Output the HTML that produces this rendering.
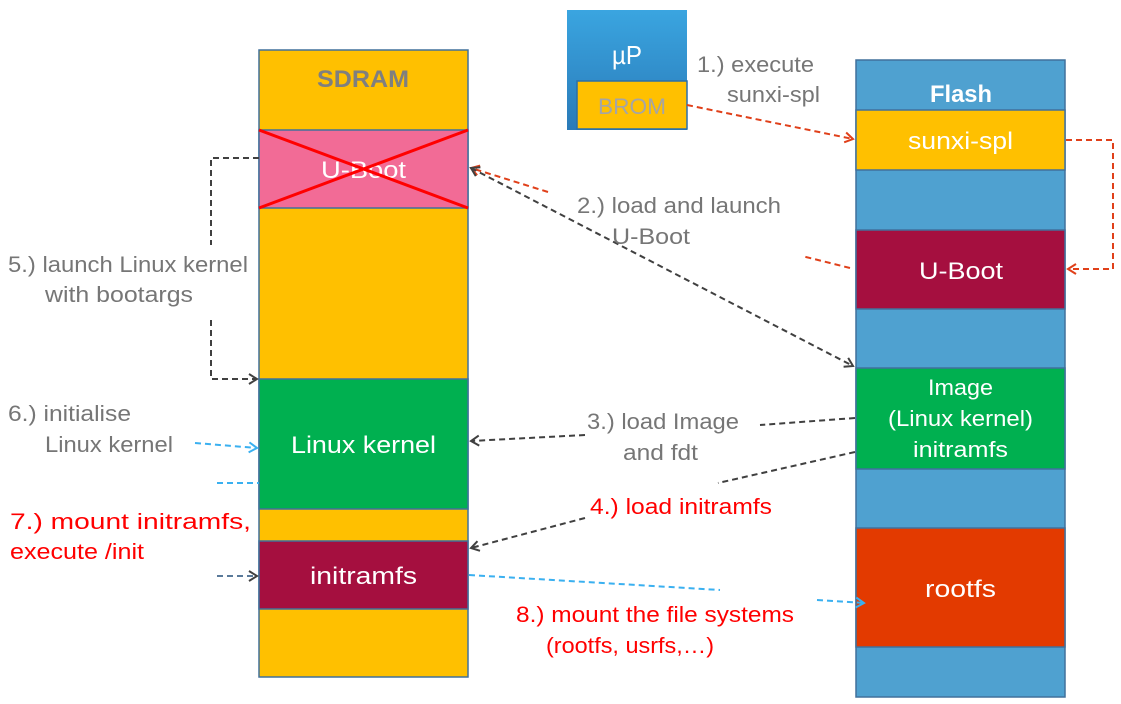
<!DOCTYPE html>
<html><head><style>body{margin:0;background:#fff}svg{display:block}</style></head><body>
<svg width="1121" height="704" xmlns="http://www.w3.org/2000/svg" font-family="Liberation Sans, sans-serif">
<defs>
<linearGradient id="g" x1="0" y1="0" x2="0" y2="1"><stop offset="0" stop-color="#3aa5e0"/><stop offset="1" stop-color="#2a7ab8"/></linearGradient>
<marker id="ao" markerWidth="12" markerHeight="12" refX="10" refY="6" orient="auto" markerUnits="userSpaceOnUse"><path d="M2,1 L10,6 L2,11" fill="none" stroke="#e0401a" stroke-width="2"/></marker>
<marker id="ag" markerWidth="12" markerHeight="12" refX="10" refY="6" orient="auto-start-reverse" markerUnits="userSpaceOnUse"><path d="M2,1 L10,6 L2,11" fill="none" stroke="#404040" stroke-width="2"/></marker>
<marker id="ab" markerWidth="12" markerHeight="12" refX="10" refY="6" orient="auto" markerUnits="userSpaceOnUse"><path d="M2,1 L10,6 L2,11" fill="none" stroke="#3ab0f0" stroke-width="2"/></marker>
</defs>
<g stroke="#41719c" stroke-width="1.5">
<rect x="259" y="50" width="209" height="627" fill="#ffc000"/>
<rect x="259" y="130" width="209" height="78" fill="#f26b96"/>
<rect x="259" y="379" width="209" height="130" fill="#00b050"/>
<rect x="259" y="541" width="209" height="68" fill="#a50f3f"/>
<rect x="856" y="60" width="209" height="637" fill="#4fa1d0"/>
<rect x="856" y="110" width="209" height="60" fill="#ffc000"/>
<rect x="856" y="230" width="209" height="79" fill="#a50f3f"/>
<rect x="856" y="368" width="209" height="101" fill="#00b050"/>
<rect x="856" y="528" width="209" height="119" fill="#e33a00"/>
</g>
<rect x="567" y="10" width="120" height="120" fill="url(#g)"/>
<rect x="577" y="81" width="110" height="48" fill="#ffc000" stroke="#2a6fa8" stroke-width="1.5"/>
<g fill="#fff" font-size="24" lengthAdjust="spacingAndGlyphs">
<text x="321" y="178" textLength="85" lengthAdjust="spacingAndGlyphs">U-Boot</text>
<text x="291" y="453" textLength="145" lengthAdjust="spacingAndGlyphs">Linux kernel</text>
<text x="310" y="584" textLength="107" lengthAdjust="spacingAndGlyphs">initramfs</text>
<text x="908" y="149" textLength="105" lengthAdjust="spacingAndGlyphs">sunxi-spl</text>
<text x="919" y="279" textLength="84" lengthAdjust="spacingAndGlyphs">U-Boot</text>
<text x="928" y="395" font-size="22" textLength="65" lengthAdjust="spacingAndGlyphs">Image</text>
<text x="888" y="426" font-size="22" textLength="145" lengthAdjust="spacingAndGlyphs">(Linux kernel)</text>
<text x="913" y="457" font-size="22" textLength="95" lengthAdjust="spacingAndGlyphs">initramfs</text>
<text x="925" y="597" textLength="71" lengthAdjust="spacingAndGlyphs">rootfs</text>
<text x="930" y="102" font-weight="bold" textLength="62" lengthAdjust="spacingAndGlyphs">Flash</text>
<text x="612" y="64" font-size="26" textLength="30" lengthAdjust="spacingAndGlyphs">µP</text>
</g>
<text x="317" y="87" fill="#7f7f7f" font-size="24" font-weight="bold" textLength="92" lengthAdjust="spacingAndGlyphs">SDRAM</text>
<text x="598" y="114" fill="#a5a5a5" font-size="22" textLength="68" lengthAdjust="spacingAndGlyphs">BROM</text>
<line x1="259" y1="130" x2="468" y2="208" stroke="#ff0000" stroke-width="3"/>
<line x1="468" y1="130" x2="259" y2="208" stroke="#ff0000" stroke-width="3"/>
<g fill="none" stroke-width="2" stroke-dasharray="6,4">
<path d="M687,105 L853,139" stroke="#e0401a" marker-end="url(#ao)"/>
<path d="M1066,140 H1113 V269 H1068" stroke="#e0401a" marker-end="url(#ao)"/>
<path d="M850,268 L802,256" stroke="#e0401a"/>
<path d="M548,192 L471,168" stroke="#e0401a" marker-end="url(#ao)"/>
<path d="M471,168 L853,366" stroke="#404040" marker-start="url(#ag)" marker-end="url(#ag)"/>
<path d="M855,418 L760,425" stroke="#404040"/>
<path d="M585,435 L471,441" stroke="#404040" marker-end="url(#ag)"/>
<path d="M855,452 L718,483" stroke="#404040"/>
<path d="M585,518 L471,548" stroke="#404040" marker-end="url(#ag)"/>
<path d="M259,158 H211 V245" stroke="#404040"/>
<path d="M211,320 V379 H257" stroke="#404040" marker-end="url(#ag)"/>
<path d="M195,443 L257,448" stroke="#3ab0f0" marker-end="url(#ab)"/>
<path d="M217,483 H259" stroke="#3ab0f0"/>
<path d="M217,576 H257" stroke="#5a7a9a" marker-end="url(#ag)"/>
<path d="M469,575 L720,590" stroke="#3ab0f0"/>
<path d="M817,600 L864,603" stroke="#3ab0f0" marker-end="url(#ab)"/>
</g>
<g fill="#767676" font-size="22">
<text x="697" y="72" textLength="117" lengthAdjust="spacingAndGlyphs">1.) execute</text>
<text x="727" y="102" textLength="93" lengthAdjust="spacingAndGlyphs">sunxi-spl</text>
<text x="577" y="213" textLength="204" lengthAdjust="spacingAndGlyphs">2.) load and launch</text>
<text x="612" y="244" textLength="78" lengthAdjust="spacingAndGlyphs">U-Boot</text>
<text x="8" y="272" textLength="240" lengthAdjust="spacingAndGlyphs">5.) launch Linux kernel</text>
<text x="45" y="302" textLength="148" lengthAdjust="spacingAndGlyphs">with bootargs</text>
<text x="8" y="421" textLength="123" lengthAdjust="spacingAndGlyphs">6.) initialise</text>
<text x="45" y="452" textLength="128" lengthAdjust="spacingAndGlyphs">Linux kernel</text>
<text x="587" y="429" textLength="152" lengthAdjust="spacingAndGlyphs">3.) load Image</text>
<text x="623" y="460" textLength="75" lengthAdjust="spacingAndGlyphs">and fdt</text>
</g>
<g fill="#ff0000" font-size="22">
<text x="590" y="514" textLength="182" lengthAdjust="spacingAndGlyphs">4.) load initramfs</text>
<text x="10" y="529" textLength="241" lengthAdjust="spacingAndGlyphs">7.) mount initramfs,</text>
<text x="10" y="559" textLength="134" lengthAdjust="spacingAndGlyphs">execute /init</text>
<text x="516" y="622" textLength="278" lengthAdjust="spacingAndGlyphs">8.) mount the file systems</text>
<text x="546" y="653" textLength="168" lengthAdjust="spacingAndGlyphs">(rootfs, usrfs,…)</text>
</g>
</svg>
</body></html>
